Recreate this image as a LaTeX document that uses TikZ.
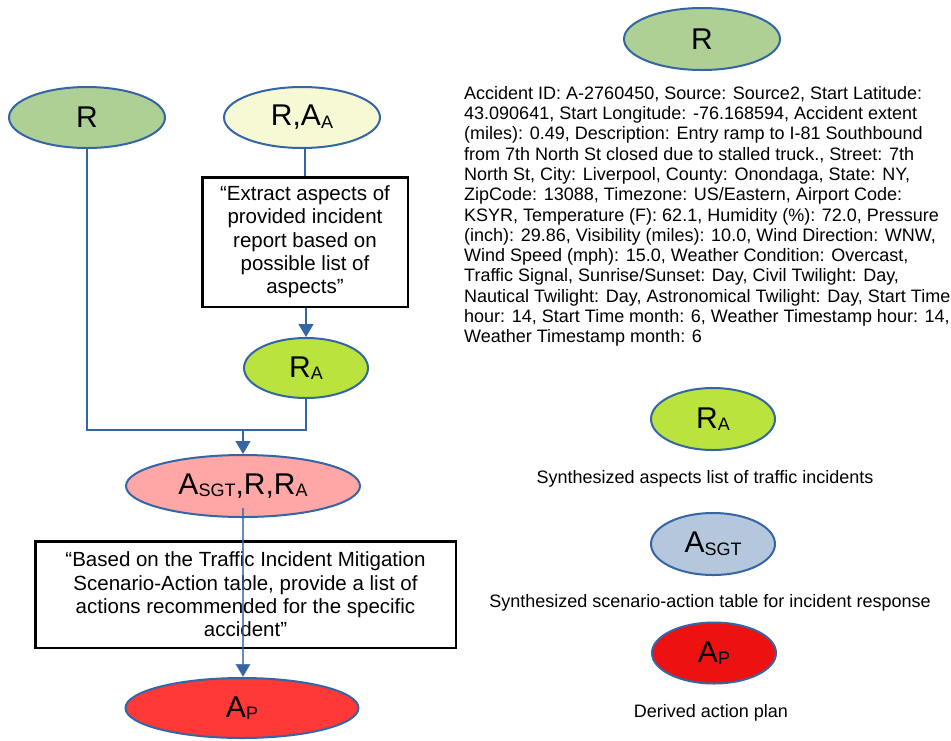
\documentclass[tikz,border=0pt]{standalone}
\usepackage{fontspec}
\setmainfont{Liberation Sans}
\usetikzlibrary{shapes.geometric,arrows.meta,calc}
\definecolor{edgeblue}{HTML}{3465A4}
\definecolor{rgreen}{HTML}{AFD095}
\definecolor{raayellow}{HTML}{F6F9D4}
\definecolor{ragreen}{HTML}{BBE33D}
\definecolor{asgtpink}{HTML}{FFA6A6}
\definecolor{apred}{HTML}{FF3838}
\definecolor{asgtblue}{HTML}{B4C7DC}
\definecolor{apredtwo}{HTML}{EE1111}
\newcommand\sbs[1]{\raisebox{-2.5pt}{\fontsize{18}{18}\selectfont #1}}
\begin{document}
\begin{tikzpicture}[x=1pt,y=-1pt,
  ell/.style={ellipse,draw=edgeblue,line width=2pt,inner sep=0pt,font=\fontsize{30}{30}\selectfont},
  pbox/.style={draw=black,line width=2.5pt,align=center,inner sep=0pt,font=\fontsize{20.5}{23.3}\selectfont},
  conn/.style={draw=edgeblue,line width=1.2pt},
  arr/.style={conn,-{Triangle[width=15pt,length=13pt]}},
  lbl/.style={font=\fontsize{18}{20.3}\selectfont,inner sep=0pt}]
\fill[white] (0,0) rectangle (951,740);
\useasboundingbox (0,0) rectangle (951,740);

% left flow
\node[ell,fill=rgreen,minimum width=156,minimum height=61] (r1) at (87,117.5) {R};
\node[ell,fill=raayellow,minimum width=156,minimum height=61] (raa) at (302,117.5) {R,A\sbs{A}};
\node[pbox,minimum width=205.5,minimum height=129.5] (b1) at (305,242) {“Extract aspects of\\provided incident\\report based on\\possible list of\\aspects”};
\node[ell,fill=ragreen,minimum width=124,minimum height=60] (ra) at (306,368) {R\sbs{A}};
\node[ell,fill=asgtpink,minimum width=234,minimum height=62] (asgt) at (243,486) {A\sbs{SGT},R,R\sbs{A}};
\node[pbox,minimum width=420.5,minimum height=106.5] (b2) at (245.5,594.5) {“Based on the Traffic Incident Mitigation\\Scenario-Action table, provide a list of\\actions recommended for the specific\\accident”};
\node[ell,fill=apred,minimum width=233,minimum height=60] (ap) at (242,708) {A\sbs{P}};

% right legend
\node[ell,fill=rgreen,minimum width=156,minimum height=62] (r2) at (702,39) {R};
\node[lbl,align=left,anchor=north west] (desc) at (464,86) {Accident ID: A-2760450, Source: Source2, Start Latitude:\\
43.090641, Start Longitude: -76.168594, Accident extent\\
(miles): 0.49, Description: Entry ramp to I-81 Southbound\\
from 7th North St closed due to stalled truck., Street: 7th\\
North St, City: Liverpool, County: Onondaga, State: NY,\\
ZipCode: 13088, Timezone: US/Eastern, Airport Code:\\
KSYR, Temperature (F): 62.1, Humidity (\%): 72.0, Pressure\\
(inch): 29.86, Visibility (miles): 10.0, Wind Direction: WNW,\\
Wind Speed (mph): 15.0, Weather Condition: Overcast,\\
Traffic Signal, Sunrise/Sunset: Day, Civil Twilight: Day,\\
Nautical Twilight: Day, Astronomical Twilight: Day, Start Time\\
hour: 14, Start Time month: 6, Weather Timestamp hour: 14,\\
Weather Timestamp month: 6};
\node[ell,fill=ragreen,minimum width=124,minimum height=62] (ra2) at (713,419) {R\sbs{A}};
\node[lbl] (l1) at (705,479) {Synthesized aspects list of traffic incidents};
\node[ell,fill=asgtblue,minimum width=124,minimum height=62] (asgt2) at (713,544) {A\sbs{SGT}};
\node[lbl] (l2) at (710,603) {Synthesized scenario-action table for incident response};
\node[ell,fill=apredtwo,minimum width=124,minimum height=61] (ap2) at (714,653) {A\sbs{P}};
\node[lbl] (l3) at (711,713) {Derived action plan};

% connectors
\coordinate (jl) at (87,430);
\coordinate (jr) at (306,430);
\coordinate (j) at (243,430);
\draw[conn] (r1.south) -- (jl) -- (jr) -- (ra.south);
\draw[conn] (raa.south -| b1.north) -- (b1.north);
\draw[arr] (b1.south -| ra.north) -- (ra.north);
\draw[arr] (j) -- (asgt.north);
\draw[arr,draw opacity=0.75] ([yshift=-22pt]asgt.center) -- (asgt.center |- ap.north);
\end{tikzpicture}
\end{document}
